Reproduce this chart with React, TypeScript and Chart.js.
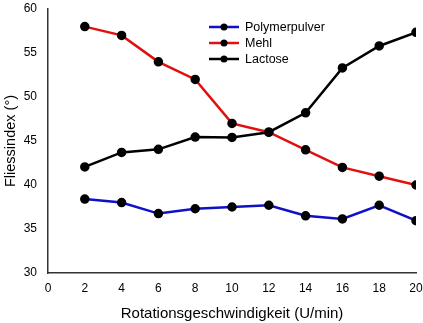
import React, { useEffect, useRef } from "react";
import { Chart, registerables } from "chart.js";

Chart.register(...registerables);

const speeds = [2, 4, 6, 8, 10, 12, 14, 16, 18, 20];
const polymerpulver = [38.4, 38.0, 36.75, 37.3, 37.5, 37.7, 36.5, 36.15, 37.7, 35.95];
const mehl = [58.0, 57.0, 54.0, 52.0, 47.0, 46.0, 44.0, 42.0, 41.0, 40.0];
const lactose = [42.05, 43.7, 44.05, 45.45, 45.4, 46.0, 48.2, 53.3, 55.8, 57.35];
const seriesNames = ["Polymerpulver", "Mehl", "Lactose"];
const seriesColors = ["#1010c8", "#e01010", "#000000"];
const xTitle = "Rotationsgeschwindigkeit (U/min)";
const yTitle = "Fliessindex (°)";

const FONT = "'Liberation Sans', Arial, sans-serif";

const legendPlugin = {
  id: "lineLegend",
  afterDraw(chart: any) {
    const ctx = chart.ctx;
    const x0 = 209;
    const y0 = 27;
    const rowH = 16;
    ctx.save();
    chart.data.datasets.forEach((ds: any, i: number) => {
      const y = y0 + i * rowH;
      ctx.strokeStyle = ds.borderColor;
      ctx.lineWidth = 2.5;
      ctx.beginPath();
      ctx.moveTo(x0, y);
      ctx.lineTo(x0 + 30, y);
      ctx.stroke();
      ctx.fillStyle = "#000";
      ctx.beginPath();
      ctx.arc(x0 + 15, y, 3.5, 0, Math.PI * 2);
      ctx.fill();
      ctx.fillStyle = "#000";
      ctx.font = "12.5px " + FONT;
      ctx.textBaseline = "middle";
      ctx.textAlign = "left";
      ctx.fillText(ds.label, x0 + 36, y + 1);
    });
    ctx.restore();
  },
};

export default function App() {
  const ref = useRef<HTMLCanvasElement>(null);
  useEffect(() => {
    if (!ref.current) return;
    const values = [polymerpulver, mehl, lactose];
    const chart = new Chart(ref.current, {
      type: "line",
      data: {
        datasets: values.map((vals, i) => ({
          label: seriesNames[i],
          data: speeds.map((s, j) => ({ x: s, y: vals[j] })),
          borderColor: seriesColors[i],
          backgroundColor: "#000",
          pointBackgroundColor: "#000",
          pointBorderColor: "#000",
          pointRadius: 3.5,
          borderWidth: 2.5,
          tension: 0,
        })),
      },
      options: {
        responsive: false,
        animation: false,
        layout: { padding: { top: 9, right: 7, left: 0, bottom: 0 } },
        plugins: { legend: { display: false }, tooltip: { enabled: false } },
        scales: {
          x: {
            type: "linear",
            min: 0,
            max: 20,
            ticks: { stepSize: 2, color: "#000", font: { size: 12, family: FONT }, padding: 4 },
            grid: { display: false, drawTicks: true, tickLength: 4, tickColor: "#333" },
            border: { color: "#333", width: 1.5 },
            title: { display: true, text: xTitle, color: "#000", font: { size: 15, family: FONT }, padding: { top: 5, bottom: 0 } },
            afterFit: (s: any) => {
              s.height = 50;
              s.paddingLeft = 0;
              s.paddingRight = 0;
            },
          },
          y: {
            min: 30,
            max: 60,
            ticks: { stepSize: 5, color: "#000", font: { size: 12, family: FONT }, padding: 7 },
            grid: { display: false, drawTicks: true, tickLength: 4, tickColor: "#333" },
            border: { color: "#333", width: 1.5 },
            title: { display: true, text: yTitle, color: "#000", font: { size: 14.5, family: FONT }, padding: { top: 2, bottom: 4 } },
            afterFit: (s: any) => {
              s.width = 48;
              s.paddingTop = 0;
              s.paddingBottom = 0;
            },
          },
        },
      },
      plugins: [legendPlugin],
    } as any);
    return () => chart.destroy();
  }, []);
  return (
    <div style={{ position: "fixed", left: 0, top: 0, width: 423, height: 323, background: "#fff" }}>
      <canvas ref={ref} width={423} height={323} />
    </div>
  );
}
